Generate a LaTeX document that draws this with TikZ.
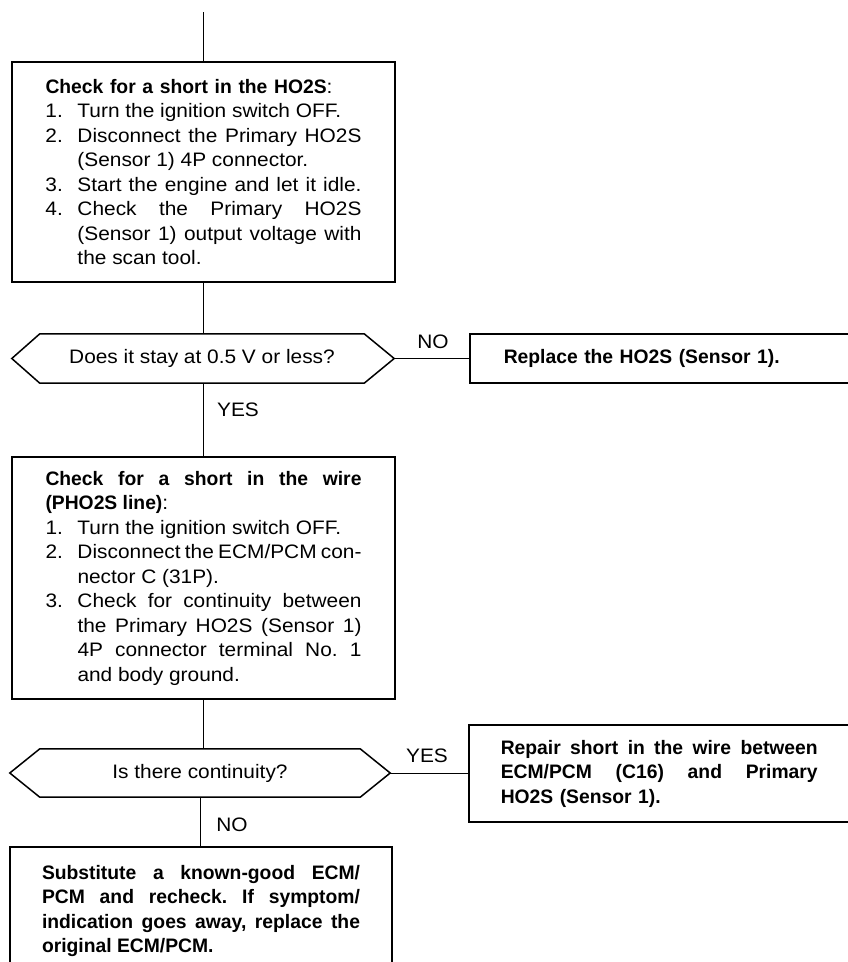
\documentclass[tikz,border=0pt]{standalone}
\usepackage{fontspec}
\setmainfont{Liberation Sans}[FakeStretch=1.07]
\newfontfamily\bfont{Liberation Sans}[FakeStretch=0.99]
\newcommand{\tb}[1]{{\bfont\bfseries #1}}
\newcommand{\jfull}[2][316pt]{\makebox[#1][s]{\spaceskip=0pt\xspaceskip=0pt\relax #2}}
\newcommand{\inum}[2]{\makebox[32pt][l]{#1}#2}
\newcommand{\jnum}[2]{\makebox[32pt][l]{#1}\makebox[284pt][s]{\spaceskip=0pt\xspaceskip=0pt\relax #2}}
\newcommand{\cont}[1]{\hspace*{32pt}#1}
\newcommand{\jcont}[1]{\hspace*{32pt}\makebox[284pt][s]{\spaceskip=0pt\xspaceskip=0pt\relax #1}}
\begin{document}
\frenchspacing
\begin{tikzpicture}[x=1pt,y=-1pt,
  every node/.style={font=\fontsize{19.5}{24.5}\selectfont\frenchspacing},
  box/.style={draw, line width=1.5pt, align=left, inner sep=0pt},
  sidebox/.style={draw, line width=1.5pt, align=left, inner ysep=0pt, anchor=west, text width=340pt},
  dnode/.style={inner sep=0pt},
  dline/.style={line width=1.5pt, line join=miter},
  conn/.style={line width=1pt},
  lbl/.style={inner sep=0pt}]
\fill[white] (0,0) rectangle (848,962);
\useasboundingbox (0,0) rectangle (848,962);

% first check box
\node[box, minimum width=383pt, minimum height=220pt] (b1) at (203.5,172) {%
\jfull[287pt]{\tb{Check for a short in the HO2S}:}\\
\inum{1.}{Turn the ignition switch OFF.}\\
\jnum{2.}{Disconnect the Primary HO2S}\\
\cont{(Sensor 1) 4P connector.}\\
\jnum{3.}{Start the engine and let it idle.}\\
\jnum{4.}{Check the Primary HO2S}\\
\jcont{(Sensor 1) output voltage with}\\
\cont{the scan tool.}};

% first decision
\node[dnode, minimum width=324pt, minimum height=49pt] (d1) at (202,358.5) {Does it stay at 0.5 V or less?};
\coordinate (d1l) at ([xshift=-28pt]d1.west);
\coordinate (d1r) at ([xshift=30pt]d1.east);
\draw[dline] (d1.north west) -- (d1.north east) -- (d1r) -- (d1.south east) -- (d1.south west) -- (d1l) -- cycle;

% replace box
\node[sidebox, inner xsep=34pt, minimum height=49pt] (rep) at (469,358.5) {\tb{Replace the HO2S (Sensor 1).}};

% second check box
\node[box, minimum width=383pt, minimum height=242pt] (b2) at (203.5,578) {%
\jfull{\tb{Check for a short in the wire}}\\
\tb{(PHO2S line)}:\\
\inum{1.}{Turn the ignition switch OFF.}\\
\jnum{2.}{Disconnect the ECM/PCM con-}\\
\cont{nector C (31P).}\\
\jnum{3.}{Check for continuity between}\\
\jcont{the Primary HO2S (Sensor 1)}\\
\jcont{4P connector terminal No. 1}\\
\cont{and body ground.}};

% second decision
\node[dnode, minimum width=320pt, minimum height=48pt] (d2) at (200,773) {Is there continuity?};
\coordinate (d2l) at ([xshift=-30pt]d2.west);
\coordinate (d2r) at ([xshift=30pt]d2.east);
\draw[dline] (d2.north west) -- (d2.north east) -- (d2r) -- (d2.south east) -- (d2.south west) -- (d2l) -- cycle;

% repair box
\node[sidebox, inner xsep=32pt, minimum height=97pt] (repair) at (468,773.5) {%
\jfull[317pt]{\tb{Repair short in the wire between}}\\
\jfull[317pt]{\tb{ECM/PCM (C16) and Primary}}\\
\tb{HO2S (Sensor 1).}};

% substitute box
\node[box, minimum width=382pt, minimum height=128pt] (b4) at (201,911) {%
\jfull[318pt]{\tb{Substitute a known-good ECM/}}\\
\jfull[318pt]{\tb{PCM and recheck. If symptom/}}\\
\jfull[318pt]{\tb{indication goes away, replace the}}\\
\tb{original ECM/PCM.}};

% connectors
\coordinate (top) at (203.5,12);
\draw[conn] (top) -- (b1.north);
\draw[conn] (b1.south) -- (b1.south |- d1.north);
\draw[conn] (d1r) -- (rep.west |- d1r);
\draw[conn] (b2.north |- d1.south) -- (b2.north);
\draw[conn] (b2.south) -- (b2.south |- d2.north);
\draw[conn] (d2r) -- (repair.west |- d2r);
\draw[conn] (d2.south) -- (d2.south |- b4.north);

% labels
\node[lbl] (lno1) at (433,342) {NO};
\node[lbl] (lyes1) at (238,410) {YES};
\node[lbl] (lyes2) at (427,756) {YES};
\node[lbl] (lno2) at (232,825) {NO};
\end{tikzpicture}
\end{document}
